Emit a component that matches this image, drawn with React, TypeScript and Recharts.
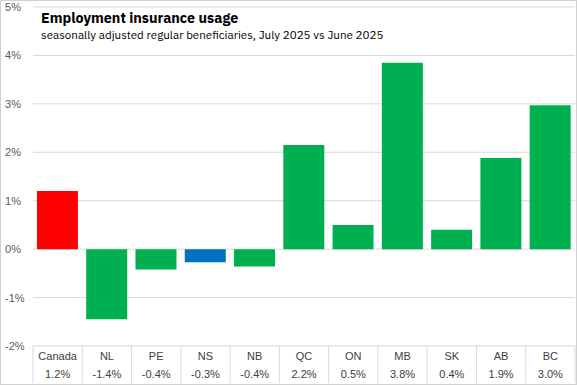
import React from "react";
import { BarChart, Bar, XAxis, YAxis, CartesianGrid, Cell } from "recharts";

const regions = ["Canada", "NL", "PE", "NS", "NB", "QC", "ON", "MB", "SK", "AB", "BC"];
const changes = [1.2, -1.45, -0.42, -0.27, -0.36, 2.15, 0.5, 3.85, 0.4, 1.88, 2.97];
const changeLabels = ["1.2%", "-1.4%", "-0.4%", "-0.3%", "-0.4%", "2.2%", "0.5%", "3.8%", "0.4%", "1.9%", "3.0%"];
const yTicks = [-2, -1, 0, 1, 2, 3, 4, 5];

const W = 577;
const H = 385;
const margin = { top: 7, right: 2, left: 0, bottom: 2 };
const yAxisWidth = 33;
const xAxisHeight = 37;
const bandWidth = (W - margin.left - margin.right - yAxisWidth) / regions.length;

const colorFor = (name: string) => {
  if (name === "Canada") return "#FF0000";
  if (name === "NS") return "#0070C0";
  return "#00B050";
};

const data = regions.map((r, i) => ({ region: r, change: changes[i], label: changeLabels[i] }));

const font = "'Liberation Sans', Arial, sans-serif";

const YTick = (props: any) => {
  const { y, payload } = props;
  return (
    <text x={5} y={y + 4} fontSize={11} fill="#595959" fontFamily={font}>
      {payload.value}%
    </text>
  );
};

const XTick = (props: any) => {
  const { x, y, payload, index } = props;
  const left = x - bandWidth / 2;
  const right = x + bandWidth / 2;
  const last = index === regions.length - 1;
  return (
    <g>
      <line x1={left} y1={y} x2={left} y2={y + 37} stroke="#d9d9d9" />
      {last && <line x1={right} y1={y} x2={right} y2={y + 37} stroke="#d9d9d9" />}
      <text x={x} y={y + 14} textAnchor="middle" fontSize={11} fill="#404040" fontFamily={font}>
        {payload.value}
      </text>
      <text x={x} y={y + 32} textAnchor="middle" fontSize={11} fill="#404040" fontFamily={font}>
        {changeLabels[index]}
      </text>
    </g>
  );
};

export default function App() {
  document.body.style.margin = "0";
  return (
    <div style={{ position: "relative", width: W, height: H, background: "#fff" }}>
      <BarChart width={W} height={H} data={data} margin={margin} barCategoryGap="8%">
        <CartesianGrid vertical={false} stroke="#d9d9d9" />
        <XAxis
          dataKey="region"
          axisLine={false}
          tickLine={false}
          tickSize={0}
          tickMargin={0}
          height={xAxisHeight}
          interval={0}
          tick={<XTick />}
        />
        <YAxis
          domain={[-2, 5]}
          ticks={yTicks}
          axisLine={false}
          tickLine={false}
          width={yAxisWidth}
          tick={<YTick />}
          interval={0}
        />
        <Bar dataKey="change" isAnimationActive={false}>
          {data.map((d) => (
            <Cell key={d.region} fill={colorFor(d.region)} />
          ))}
        </Bar>
      </BarChart>
      <div
        style={{
          position: "absolute",
          left: 41,
          top: 9,
          fontFamily: "'IBM Plex Sans', 'Noto Sans', sans-serif",
          color: "#000",
          whiteSpace: "nowrap",
        }}
      >
        <div style={{ fontSize: 14.3, fontWeight: 700, lineHeight: "18px" }}>Employment insurance usage</div>
        <div style={{ fontSize: 11.6, lineHeight: "15px" }}>
          seasonally adjusted regular beneficiaries, July 2025 vs June 2025
        </div>
      </div>
      <div
        style={{
          position: "absolute",
          inset: 0,
          border: "1px solid #d0d0d0",
          pointerEvents: "none",
        }}
      />
    </div>
  );
}
